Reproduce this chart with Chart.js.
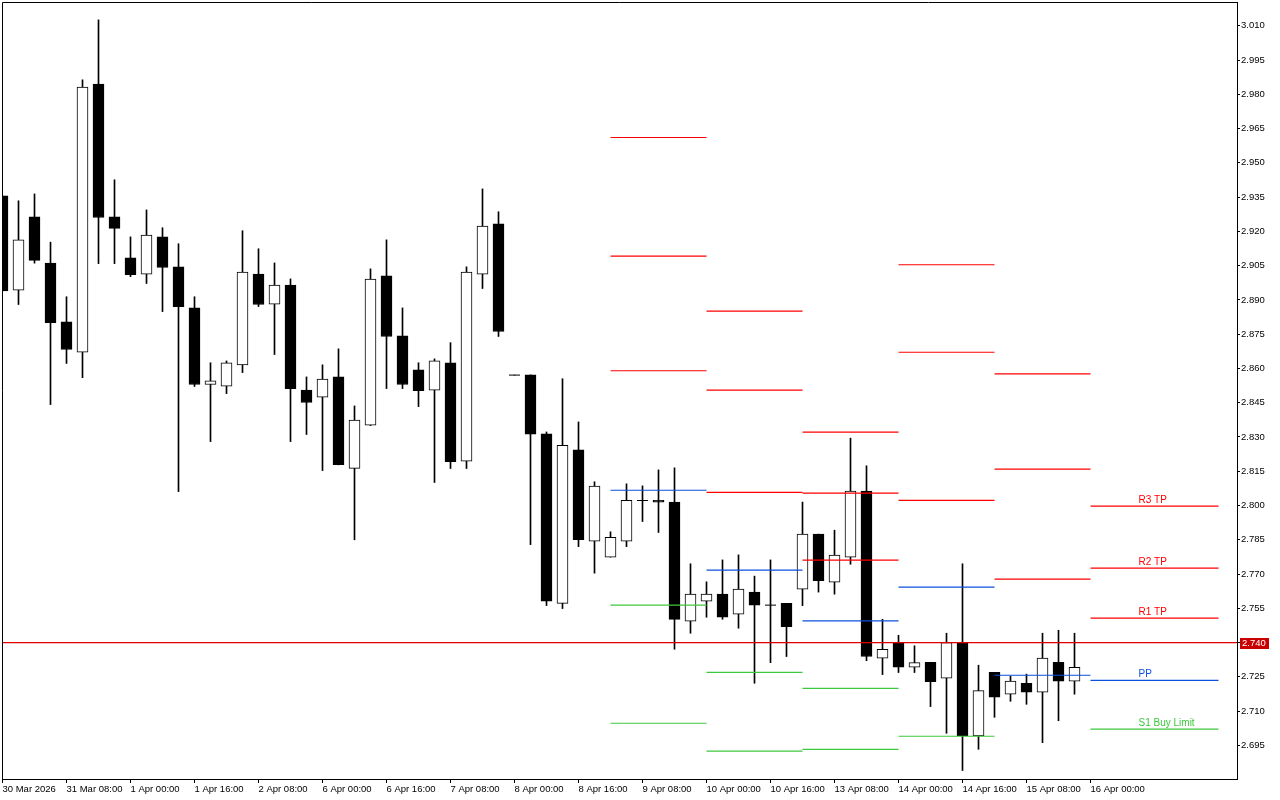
<!DOCTYPE html>
<html>
<head>
<meta charset="utf-8">
<title>H4 chart with daily pivots</title>
<script src="https://cdn.jsdelivr.net/npm/chart.js@4.4.1/dist/chart.umd.min.js"></script>
<style>
  html, body { margin: 0; padding: 0; background: #fff; }
  #wrap { width: 1280px; height: 800px; }
</style>
</head>
<body>
<div id="wrap"><canvas id="chart" width="1280" height="800"></canvas></div>
<script>
// ===== Data (H4 bars, 30 Mar 16:00 .. 15 Apr 20:00) =====
const opens = [
  2.9356, 2.8943, 2.9264, 2.9061, 2.8804, 2.8671, 2.9845, 2.9264, 2.9084, 2.9013,
  2.9176, 2.9045, 2.8865, 2.8530, 2.8522, 2.8615, 2.9013, 2.8882, 2.8965, 2.8505,
  2.8474, 2.8563, 2.8163, 2.8352, 2.9005, 2.8743, 2.8594, 2.8505, 2.8625, 2.8194,
  2.9013, 2.9233, 2.8571, 2.8572, 2.8314, 2.7572, 2.8244, 2.7844, 2.7774, 2.7844,
  2.8023, 2.8023, 2.8015, 2.7494, 2.7581, 2.7612, 2.7524, 2.7621, 2.7564, 2.7572,
  2.7634, 2.7875, 2.7664, 2.7774, 2.8063, 2.7332, 2.7400, 2.7292, 2.7314, 2.7244,
  2.7400, 2.6991, 2.7270, 2.7174, 2.7222, 2.7183, 2.7314, 2.7231
];
const highs = [
  2.9356, 2.9334, 2.9364, 2.9153, 2.8914, 2.9864, 3.0126, 2.9426, 2.9176, 2.9294,
  2.9216, 2.9146, 2.8914, 2.8625, 2.8633, 2.9203, 2.9124, 2.9062, 2.8992, 2.8563,
  2.8616, 2.8686, 2.8436, 2.9036, 2.9163, 2.8865, 2.8625, 2.8642, 2.8713, 2.9045,
  2.9386, 2.9286, 2.8571, 2.8572, 2.8322, 2.8555, 2.8366, 2.8104, 2.7885, 2.8095,
  2.8086, 2.8156, 2.8165, 2.7745, 2.7666, 2.7762, 2.7784, 2.7691, 2.7762, 2.7572,
  2.8015, 2.7875, 2.7892, 2.8295, 2.8174, 2.7502, 2.7432, 2.7386, 2.7314, 2.7441,
  2.7745, 2.7301, 2.7270, 2.7253, 2.7262, 2.7441, 2.7454, 2.7441
];
const lows = [
  2.8940, 2.8880, 2.9061, 2.8442, 2.8622, 2.8560, 2.9059, 2.9059, 2.9002, 2.8972,
  2.8849, 2.8061, 2.8521, 2.8280, 2.8490, 2.8582, 2.8871, 2.8661, 2.8280, 2.8311,
  2.8153, 2.8178, 2.7850, 2.8350, 2.8512, 2.8512, 2.8433, 2.8101, 2.8162, 2.8162,
  2.8950, 2.8740, 2.8571, 2.7829, 2.7562, 2.7549, 2.7820, 2.7704, 2.7774, 2.7820,
  2.7930, 2.7882, 2.7371, 2.7441, 2.7511, 2.7502, 2.7463, 2.7222, 2.7312, 2.7339,
  2.7562, 2.7621, 2.7612, 2.7743, 2.7321, 2.7260, 2.7269, 2.7269, 2.7120, 2.7003,
  2.6840, 2.6933, 2.7073, 2.7143, 2.7130, 2.6962, 2.7058, 2.7174
];
const closes = [
  2.8940, 2.9163, 2.9073, 2.8801, 2.8683, 2.9832, 2.9261, 2.9213, 2.9011, 2.9184,
  2.9042, 2.8871, 2.8530, 2.8546, 2.8625, 2.9022, 2.8880, 2.8965, 2.8512, 2.8451,
  2.8553, 2.8179, 2.8374, 2.8991, 2.8740, 2.8530, 2.8503, 2.8633, 2.8192, 2.9022,
  2.9223, 2.8762, 2.8571, 2.8312, 2.7581, 2.8264, 2.7851, 2.8085, 2.7861, 2.8023,
  2.8022, 2.8015, 2.7502, 2.7612, 2.7612, 2.7511, 2.7634, 2.7564, 2.7564, 2.7470,
  2.7875, 2.7671, 2.7783, 2.8063, 2.7339, 2.7371, 2.7292, 2.7312, 2.7229, 2.7400,
  2.6991, 2.7190, 2.7161, 2.7231, 2.7183, 2.7332, 2.7231, 2.7292
];

// Daily pivot segments (bar index where each day starts / ends)
const segStart = [38, 44, 50, 56, 62, 68];
const segEnd   = [44, 50, 56, 62, 68, 76];
const pivotR3 = [2.9611, 2.8851, 2.8321, 2.9054, 2.8576, 2.7997];
const pivotR2 = [2.9092, 2.8505, 2.8054, 2.8671, 2.8159, 2.7726];
const pivotR1 = [2.8590, 2.8058, 2.7761, 2.8023, 2.7678, 2.7507];
const pivotPP = [2.8067, 2.7717, 2.7495, 2.7643, 2.7257, 2.7235];
const pivotS1 = [2.7564, 2.7270, 2.7200, 2.6990, null, 2.7021];
const pivotS2 = [2.7047, 2.6925, 2.6933, null, null, null];

// Labels on the current (16 Apr) segment
const levelLabels = ['R3 TP', 'R2 TP', 'R1 TP', 'PP', 'S1 Buy Limit'];
const labelAt = 71;

const priceLevel = 2.740;

const xTickPos = [0, 4, 8, 12, 16, 20, 24, 28, 32, 36, 40, 44, 48, 52, 56, 60, 64, 68];
const xTickLabels = ['30 Mar 2026', '31 Mar 08:00', '1 Apr 00:00', '1 Apr 16:00', '2 Apr 08:00',
  '6 Apr 00:00', '6 Apr 16:00', '7 Apr 08:00', '8 Apr 00:00', '8 Apr 16:00', '9 Apr 08:00',
  '10 Apr 00:00', '10 Apr 16:00', '13 Apr 08:00', '14 Apr 00:00', '14 Apr 16:00',
  '15 Apr 08:00', '16 Apr 00:00'];
const yTickValues = [2.695, 2.710, 2.725, 2.740, 2.755, 2.770, 2.785, 2.800, 2.815, 2.830,
  2.845, 2.860, 2.875, 2.890, 2.905, 2.920, 2.935, 2.950, 2.965, 2.980, 2.995, 3.010];

// ===== View range =====
const xMin = -0.03125;
const xMax = 77.15625;
const yMin = 2.68029;
const yMax = 3.02042;

const RED = '#ff0000';
const BLUE = '#0a50dc';
const GREEN = '#3cc83c';

Chart.defaults.font.family = "'Liberation Sans', Arial, sans-serif";
Chart.defaults.color = '#000';

// ===== Datasets =====
const bars = opens.map((_, i) => i);

const bodyData = bars.map(i => ({ x: i, y: [opens[i], closes[i]] }));
const bodyColors = bars.map(i => closes[i] >= opens[i] ? '#ffffff' : '#000000');
const wickData = bars.map(i => ({ x: i, y: [lows[i], highs[i]] }));
const dojiData = bars
  .filter(i => Math.abs(opens[i] - closes[i]) < 0.0003)
  .map(i => ({ x: i, y: closes[i] }));

function levelSets(values, color) {
  const sets = [];
  values.forEach((v, i) => {
    if (v === null) return;
    sets.push({
      type: 'line',
      data: [{ x: segStart[i], y: v }, { x: segEnd[i], y: v }],
      borderColor: color,
      borderWidth: 1.2,
      pointRadius: 0,
      fill: false
    });
  });
  return sets;
}

const datasets = [
  {
    type: 'line',
    data: [{ x: xMin, y: priceLevel }, { x: xMax, y: priceLevel }],
    borderColor: '#e00000',
    borderWidth: 1.2,
    pointRadius: 0
  },
  ...levelSets(pivotR3, RED),
  ...levelSets(pivotR2, RED),
  ...levelSets(pivotR1, RED),
  ...levelSets(pivotPP, BLUE),
  ...levelSets(pivotS1, GREEN),
  ...levelSets(pivotS2, GREEN),
  {
    type: 'line',
    data: dojiData,
    showLine: false,
    pointStyle: 'line',
    pointRadius: 5.5,
    pointBorderColor: '#000',
    pointBorderWidth: 1,
    pointHoverRadius: 5.5
  },
  {
    type: 'bar',
    data: bodyData,
    backgroundColor: bodyColors,
    borderColor: '#000',
    borderWidth: 1,
    borderSkipped: false,
    barThickness: 11,
    grouped: false
  },
  {
    type: 'bar',
    data: wickData,
    backgroundColor: '#000',
    borderWidth: 0,
    barThickness: 1,
    grouped: false
  }
];

// ===== Plugins =====
const framePlugin = {
  id: 'frame',
  afterDraw(chart) {
    const { ctx, chartArea } = chart;
    ctx.save();
    ctx.strokeStyle = '#000';
    ctx.lineWidth = 1;
    ctx.beginPath();
    ctx.moveTo(chartArea.left + 0.5, chartArea.bottom);
    ctx.lineTo(chartArea.left + 0.5, chartArea.top + 0.5);
    ctx.lineTo(chartArea.right, chartArea.top + 0.5);
    ctx.stroke();
    ctx.restore();
  }
};

const labelPlugin = {
  id: 'levelLabels',
  afterDraw(chart) {
    const { ctx, chartArea } = chart;
    const xs = chart.scales.x;
    const ys = chart.scales.y;
    const last = segStart.length - 1;
    const levels = [pivotR3[last], pivotR2[last], pivotR1[last], pivotPP[last], pivotS1[last]];
    const colors = [RED, RED, RED, BLUE, GREEN];
    ctx.save();
    ctx.font = "10px 'Liberation Sans', Arial, sans-serif";
    ctx.textAlign = 'left';
    ctx.textBaseline = 'alphabetic';
    levels.forEach((v, i) => {
      ctx.fillStyle = colors[i];
      ctx.fillText(levelLabels[i], xs.getPixelForValue(labelAt), Math.round(ys.getPixelForValue(v)) - 3);
    });

    // current price box on the axis
    const py = Math.round(ys.getPixelForValue(priceLevel));
    ctx.fillStyle = '#c80000';
    ctx.fillRect(chartArea.right + 3, py - 5, 29, 11);
    ctx.fillStyle = '#fff';
    ctx.font = "9.5px 'Liberation Sans', Arial, sans-serif";
    ctx.textBaseline = 'middle';
    ctx.fillText(priceLevel.toFixed(3), chartArea.right + 5, py + 0.5);
    ctx.restore();
  }
};

// ===== Chart =====
const ctx = document.getElementById('chart');
new Chart(ctx, {
  type: 'bar',
  data: { datasets: datasets },
  options: {
    responsive: false,
    animation: false,
    events: [],
    layout: { autoPadding: false, padding: { left: 2, top: 2, right: 0, bottom: 0 } },
    plugins: {
      legend: { display: false },
      tooltip: { enabled: false }
    },
    scales: {
      x: {
        type: 'linear',
        min: xMin,
        max: xMax,
        offset: false,
        grid: { offset: false, drawOnChartArea: false, tickLength: 4, tickColor: '#000', color: '#000' },
        border: { color: '#000', width: 1 },
        ticks: {
          autoSkip: false,
          maxRotation: 0,
          align: 'start',
          padding: 1,
          font: { size: 9.5 },
          color: '#000',
          callback: v => xTickLabels[xTickPos.indexOf(v)]
        },
        afterBuildTicks: s => { s.ticks = xTickPos.map(v => ({ value: v })); },
        afterFit: s => {
          s.height = 21;
          s.paddingLeft = 0;
          s.paddingRight = 0;
        }
      },
      y: {
        type: 'linear',
        position: 'right',
        min: yMin,
        max: yMax,
        beginAtZero: false,
        grid: { drawOnChartArea: false, tickLength: 3, tickColor: '#000', color: '#000' },
        border: { color: '#000', width: 1 },
        ticks: {
          padding: 1,
          font: { size: 9.5 },
          color: '#000',
          callback: v => v.toFixed(3)
        },
        afterBuildTicks: s => { s.ticks = yTickValues.map(v => ({ value: v })); },
        afterFit: s => {
          s.width = 43;
          s.paddingTop = 0;
          s.paddingBottom = 0;
        }
      }
    }
  },
  plugins: [framePlugin, labelPlugin]
});
</script>
</body>
</html>
